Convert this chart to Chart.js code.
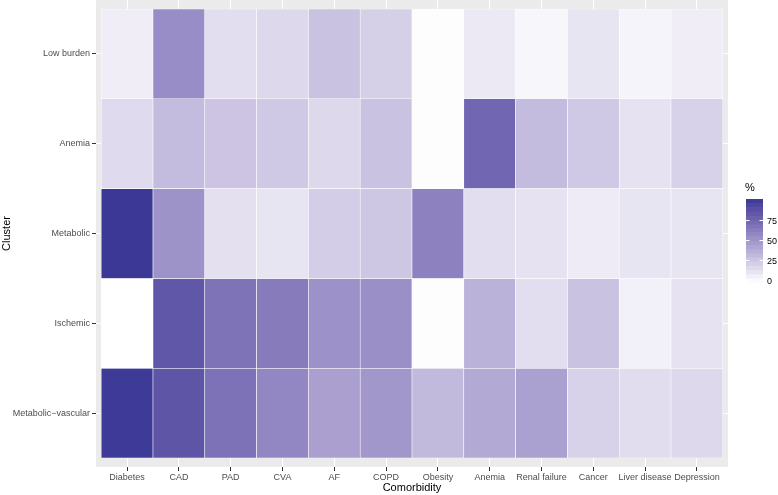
<!DOCTYPE html>
<html>
<head>
<meta charset="utf-8">
<script src="https://cdn.jsdelivr.net/npm/chart.js@4.4.1/dist/chart.umd.min.js"></script>
<style>
  html, body { margin: 0; padding: 0; background: #ffffff; }
  #wrap { width: 778px; height: 495px; position: relative; }
</style>
</head>
<body>
<div id="wrap"><canvas id="heat"></canvas></div>
<script>
const comorbidities = ['Diabetes', 'CAD', 'PAD', 'CVA', 'AF', 'COPD', 'Obesity', 'Anemia',
    'Renal failure', 'Cancer', 'Liver disease', 'Depression'];
const clusters = ['Low burden', 'Anemia', 'Metabolic', 'Ischemic', 'Metabolic\u2212vascular'];

// % of patients with each comorbidity, per cluster (same order as comorbidities)
const lowBurden = [8, 54, 15, 18, 28, 22, 1, 10, 4, 12, 5, 8];
const anemia = [17, 31, 27, 25, 18, 28, 1, 74, 31, 25, 13, 21];
const metabolic = [99, 51, 14, 12, 23, 26, 60, 15, 13, 9, 12, 12];
const ischemic = [0, 82, 67, 63, 52, 53, 1, 36, 15, 28, 7, 13];
const metabolicVascular = [98, 83, 68, 57, 45, 49, 32, 40, 44, 21, 16, 18];
const clusterValues = [lowBurden, anemia, metabolic, ischemic, metabolicVascular];

const legendTicks = [0, 25, 50, 75];
const LOW = [255, 255, 255];
const HIGH = [59, 56, 150];
const VMAX = 99;

// colour interpolation in Lab space, like ggplot's gradient
function toLin(c) { c /= 255; return c <= 0.04045 ? c / 12.92 : Math.pow((c + 0.055) / 1.055, 2.4); }
function fromLin(c) { const v = c <= 0.0031308 ? 12.92 * c : 1.055 * Math.pow(c, 1 / 2.4) - 0.055; return Math.max(0, Math.min(255, Math.round(v * 255))); }
const WX = 0.95047, WY = 1.0, WZ = 1.08883;
function f(t) { return t > 0.008856 ? Math.cbrt(t) : 7.787 * t + 16 / 116; }
function finv(t) { return t > 0.206893 ? t * t * t : (t - 16 / 116) / 7.787; }
function rgbToLab(rgb) {
    const r = toLin(rgb[0]), g = toLin(rgb[1]), b = toLin(rgb[2]);
    const x = (r * 0.4124 + g * 0.3576 + b * 0.1805) / WX;
    const y = (r * 0.2126 + g * 0.7152 + b * 0.0722) / WY;
    const z = (r * 0.0193 + g * 0.1192 + b * 0.9505) / WZ;
    return [116 * f(y) - 16, 500 * (f(x) - f(y)), 200 * (f(y) - f(z))];
}
function labToRgb(lab) {
    const fy = (lab[0] + 16) / 116, fx = fy + lab[1] / 500, fz = fy - lab[2] / 200;
    const x = finv(fx) * WX, y = finv(fy) * WY, z = finv(fz) * WZ;
    const r = x * 3.2406 + y * -1.5372 + z * -0.4986;
    const g = x * -0.9689 + y * 1.8758 + z * 0.0415;
    const b = x * 0.0557 + y * -0.2040 + z * 1.0570;
    return [fromLin(r), fromLin(g), fromLin(b)];
}
const labLow = rgbToLab(LOW), labHigh = rgbToLab(HIGH);
function colourFor(v) {
    const t = Math.max(0, Math.min(1, v / VMAX));
    const lab = [0, 1, 2].map(k => labLow[k] + (labHigh[k] - labLow[k]) * t);
    const c = labToRgb(lab);
    return `rgb(${c[0]},${c[1]},${c[2]})`;
}

const datasets = clusters.map((name, ci) => {
    const row = clusters.length - 1 - ci;
    const vals = clusterValues[ci];
    return {
        label: name,
        data: comorbidities.map((c, i) => ({ x: i + 0.5, y: [row, row + 1] })),
        backgroundColor: vals.map(v => colourFor(v)),
        borderColor: '#ffffff',
        borderWidth: 0.6,
        borderSkipped: false,
        barPercentage: 1,
        categoryPercentage: 1,
        grouped: false
    };
});

const panelBg = {
    id: 'panelBg',
    beforeDraw(chart) {
        const { ctx, chartArea: a } = chart;
        ctx.save();
        ctx.fillStyle = '#ffffff';
        ctx.fillRect(0, 0, chart.width, chart.height);
        ctx.fillStyle = '#ebebeb';
        ctx.fillRect(a.left, a.top, a.right - a.left, a.bottom - a.top);
        ctx.restore();
    }
};

const colourBar = {
    id: 'colourBar',
    afterDraw(chart) {
        const ctx = chart.ctx;
        const x0 = 746, w = 17, top = 199, bottom = 282;
        const nbin = 20, binH = (bottom - top) / nbin;
        ctx.save();
        for (let i = 0; i < nbin; i++) {
            const v = (i + 0.5) / nbin * VMAX;
            ctx.fillStyle = colourFor(v);
            ctx.fillRect(x0, bottom - (i + 1) * binH, w, binH + 0.5);
        }
        const pos = v => bottom - binH / 2 - v / VMAX * (bottom - top - binH);
        ctx.strokeStyle = '#ffffff';
        ctx.lineWidth = 1;
        ctx.fillStyle = '#000000';
        ctx.font = "9px 'Liberation Sans', Arial, sans-serif";
        ctx.textBaseline = 'middle';
        ctx.textAlign = 'left';
        legendTicks.forEach(t => {
            const y = Math.round(pos(t)) + 0.5;
            ctx.beginPath();
            ctx.moveTo(x0, y); ctx.lineTo(x0 + 3.5, y);
            ctx.moveTo(x0 + w - 3.5, y); ctx.lineTo(x0 + w, y);
            ctx.stroke();
            ctx.fillText(String(t), x0 + w + 4, y + 1);
        });
        ctx.font = "11px 'Liberation Sans', Arial, sans-serif";
        ctx.fillText('%', 745, 188);
        ctx.restore();
    }
};

Chart.defaults.font.family = "'Liberation Sans', Arial, sans-serif";

new Chart(document.getElementById('heat'), {
    type: 'bar',
    data: { datasets: datasets },
    options: {
        responsive: true,
        maintainAspectRatio: false,
        animation: false,
        layout: { padding: { left: 0, right: 50, top: 0, bottom: 0 } },
        plugins: { legend: { display: false }, tooltip: { enabled: false } },
        scales: {
            x: {
                type: 'linear',
                offset: false,
                min: -0.1,
                max: comorbidities.length + 0.1,
                afterBuildTicks: s => { s.ticks = comorbidities.map((c, i) => ({ value: i + 0.5 })); },
                afterFit: s => { s.height = 28; s.paddingLeft = 0; s.paddingRight = 0; },
                ticks: {
                    autoSkip: false,
                    maxRotation: 0,
                    padding: 1,
                    color: '#4d4d4d',
                    font: { size: 9 },
                    callback: (v, i) => comorbidities[i]
                },
                grid: { offset: false, color: '#ffffff', lineWidth: 1, drawTicks: true, tickLength: 4, tickColor: '#333333', tickWidth: 1 },
                border: { display: false },
                title: { display: true, text: 'Comorbidity', color: '#000000', font: { size: 11 }, padding: { top: 0, bottom: 0 } }
            },
            y: {
                type: 'linear',
                offset: false,
                min: -0.1,
                max: clusters.length + 0.1,
                afterBuildTicks: s => { s.ticks = clusters.map((c, i) => ({ value: i + 0.5 })); },
                afterFit: s => { s.width = 96; s.paddingTop = 0; s.paddingBottom = 0; },
                ticks: {
                    autoSkip: false,
                    padding: 2,
                    color: '#4d4d4d',
                    font: { size: 9 },
                    callback: (v, i) => clusters[clusters.length - 1 - i]
                },
                grid: { offset: false, color: '#ffffff', lineWidth: 1, drawTicks: true, tickLength: 4, tickColor: '#333333', tickWidth: 1 },
                border: { display: false },
                title: { display: true, text: 'Cluster', color: '#000000', font: { size: 11 }, padding: { top: 0, bottom: 0 } }
            }
        }
    },
    plugins: [panelBg, colourBar]
});
</script>
</body>
</html>
